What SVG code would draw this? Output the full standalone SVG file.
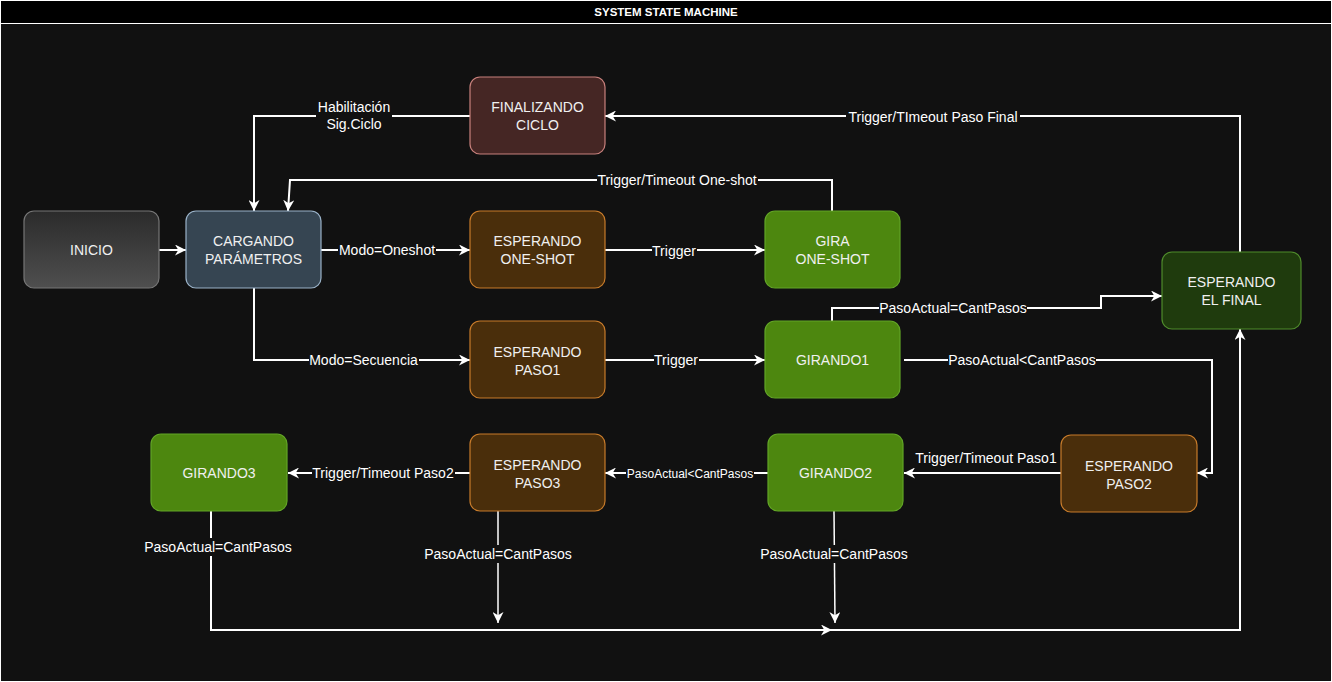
<svg xmlns="http://www.w3.org/2000/svg" width="1332" height="682" viewBox="0 0 1332 682">
<defs>
<linearGradient id="gInicio" x1="0" y1="0" x2="0" y2="1">
<stop offset="0" stop-color="#2b2b2b"/>
<stop offset="1" stop-color="#4f4f4f"/>
</linearGradient>
<marker id="arr" viewBox="0 0 10 10" refX="10" refY="5" markerWidth="11" markerHeight="11" markerUnits="userSpaceOnUse" orient="auto">
<path d="M0,0 L10,5 L0,10 L3,5 Z" fill="#ffffff"/>
</marker>
<style>
.node rect{stroke-width:1.2}
.nt{font-family:"Liberation Sans",Arial,sans-serif;font-size:14px;fill:#f0f0f0;text-anchor:middle}
.el{font-family:"Liberation Sans",Arial,sans-serif;font-size:14px;fill:#ffffff;text-anchor:middle}
.els{font-family:"Liberation Sans",Arial,sans-serif;font-size:12px;fill:#ffffff;text-anchor:middle}
.bg{fill:#111111}
.e{fill:none;stroke:#ffffff;stroke-width:2;marker-end:url(#arr)}
.ev{fill:none;stroke:#ffffff;stroke-width:1.5;marker-end:url(#arr)}
.brown{fill:#4a2e0b;stroke:#c77b2a}
.green{fill:#4d870f;stroke:#62a526}
</style>
</defs>
<rect x="0" y="0" width="1332" height="682" fill="#111111"/>
<rect x="0.5" y="0.5" width="1331" height="681" fill="none" stroke="#ffffff" stroke-width="1"/>
<rect x="1" y="1" width="1330" height="22" fill="#000000"/>
<line x1="1" y1="23.5" x2="1331" y2="23.5" stroke="#ffffff" stroke-width="1"/>
<text x="666" y="16" font-family="'Liberation Sans',Arial,sans-serif" font-size="11.5" font-weight="bold" fill="#ffffff" text-anchor="middle">SYSTEM STATE MACHINE</text>

<g id="connectors">
<path class="e" d="M159,250 L186,250"/>
<path class="e" d="M321,250 L470,250"/>
<path class="e" d="M605,250 L765,250"/>
<path class="e" d="M832,211 L832,180 L290,180 L288,211"/>
<path class="e" d="M470,116 L254,116 L254,211"/>
<path class="e" d="M1240,252 L1240,116 L605,116"/>
<path class="e" d="M254,288 L254,360 L470,360"/>
<path class="e" d="M605,360 L765,360"/>
<path class="e" d="M832,321 L832,308 L1101,308 L1101,296 L1162,296"/>
<path class="e" d="M904,360 L1212,360 L1212,473 L1197,473"/>
<path class="e" d="M1061,473 L904,473"/>
<path class="e" d="M768,473 L605,473"/>
<path class="e" d="M470,473 L288,473"/>
<path class="e" d="M211,511 L211,630 L832,630"/>
<path class="ev" d="M498,511 L498,623"/>
<path class="ev" d="M834,511 L835,623"/>
<path class="e" d="M832,630 L1240,630 L1240,329"/>

<rect class="bg" x="316" y="97" width="76" height="36"/>
<text class="el" x="354" y="112">Habilitación</text>
<text class="el" x="354" y="129">Sig.Ciclo</text>
<rect class="bg" x="846" y="108" width="174" height="18"/>
<text class="el" x="933" y="122">Trigger/TImeout Paso Final</text>
<rect class="bg" x="597" y="171" width="161" height="18"/>
<text class="el" x="677" y="185">Trigger/Timeout One-shot</text>
<rect class="bg" x="338" y="241" width="98" height="18"/>
<text class="el" x="387" y="255">Modo=Oneshot</text>
<rect class="bg" x="652" y="242" width="45" height="18"/>
<text class="el" x="674" y="256">Trigger</text>
<rect class="bg" x="879" y="299" width="148" height="18"/>
<text class="el" x="953" y="313">PasoActual=CantPasos</text>
<rect class="bg" x="309" y="351" width="110" height="18"/>
<text class="el" x="363.5" y="365">Modo=Secuencia</text>
<rect class="bg" x="654" y="351" width="45" height="18"/>
<text class="el" x="676" y="365">Trigger</text>
<rect class="bg" x="948" y="351" width="148" height="18"/>
<text class="el" x="1022" y="365">PasoActual&lt;CantPasos</text>
<text class="el" x="986" y="463">Trigger/Timeout Paso1</text>
<rect class="bg" x="626" y="466" width="128" height="16"/>
<text class="els" x="690" y="478">PasoActual&lt;CantPasos</text>
<rect class="bg" x="312" y="464" width="143" height="18"/>
<text class="el" x="383" y="478">Trigger/Timeout Paso2</text>
<rect class="bg" x="144" y="538" width="148" height="18"/>
<text class="el" x="218" y="552">PasoActual=CantPasos</text>
<rect class="bg" x="424" y="545" width="148" height="18"/>
<text class="el" x="498" y="559">PasoActual=CantPasos</text>
<rect class="bg" x="760" y="545" width="148" height="18"/>
<text class="el" x="834" y="559">PasoActual=CantPasos</text>
</g>

<g id="inicio" class="node">
<rect x="24" y="211" width="135" height="77" rx="10" fill="url(#gInicio)" stroke="#767676"/>
<text class="nt" x="91.5" y="255">INICIO</text>
</g>
<g id="cargando" class="node">
<rect x="186" y="211" width="135" height="77" rx="10" fill="#364552" stroke="#9ab2c8"/>
<text class="nt" x="253.5" y="246">CARGANDO</text>
<text class="nt" x="253.5" y="264">PARÁMETROS</text>
</g>
<g id="finalizando" class="node">
<rect x="470" y="77" width="135" height="77" rx="10" fill="#452624" stroke="#c8807c"/>
<text class="nt" x="537.5" y="112">FINALIZANDO</text>
<text class="nt" x="537.5" y="130">CICLO</text>
</g>
<g id="esperando-oneshot" class="node">
<rect class="brown" x="470" y="211" width="135" height="77" rx="10"/>
<text class="nt" x="537.5" y="246">ESPERANDO</text>
<text class="nt" x="537.5" y="264">ONE-SHOT</text>
</g>
<g id="gira-oneshot" class="node">
<rect class="green" x="765" y="211" width="135" height="77" rx="10"/>
<text class="nt" x="832.5" y="246">GIRA</text>
<text class="nt" x="832.5" y="264">ONE-SHOT</text>
</g>
<g id="esperando-final" class="node">
<rect x="1162" y="252" width="139" height="77" rx="10" fill="#1f3b0d" stroke="#4f8b2b"/>
<text class="nt" x="1231.5" y="287">ESPERANDO</text>
<text class="nt" x="1231.5" y="305">EL FINAL</text>
</g>
<g id="esperando-paso1" class="node">
<rect class="brown" x="470" y="321" width="135" height="77" rx="10"/>
<text class="nt" x="537.5" y="357">ESPERANDO</text>
<text class="nt" x="537.5" y="375">PASO1</text>
</g>
<g id="girando1" class="node">
<rect class="green" x="765" y="321" width="135" height="77" rx="10"/>
<text class="nt" x="832.5" y="365">GIRANDO1</text>
</g>
<g id="girando3" class="node">
<rect class="green" x="151" y="434" width="136" height="77" rx="10"/>
<text class="nt" x="219" y="478">GIRANDO3</text>
</g>
<g id="esperando-paso3" class="node">
<rect class="brown" x="470" y="434" width="135" height="77" rx="10"/>
<text class="nt" x="537.5" y="470">ESPERANDO</text>
<text class="nt" x="537.5" y="488">PASO3</text>
</g>
<g id="girando2" class="node">
<rect class="green" x="768" y="434" width="135" height="77" rx="10"/>
<text class="nt" x="835.5" y="478">GIRANDO2</text>
</g>
<g id="esperando-paso2" class="node">
<rect class="brown" x="1061" y="435" width="136" height="77" rx="10"/>
<text class="nt" x="1129" y="471">ESPERANDO</text>
<text class="nt" x="1129" y="489">PASO2</text>
</g>
</svg>
